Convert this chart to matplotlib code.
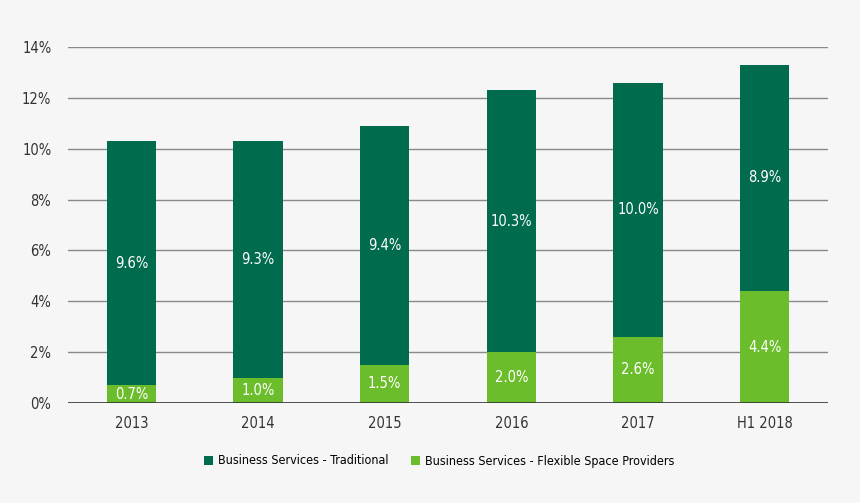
import numpy as np
import matplotlib.pyplot as plt
from matplotlib import font_manager

names = {f.name for f in font_manager.fontManager.ttflist}
narrow = [n for n in ["Liberation Sans Narrow", "DejaVu Sans"] if n in names]
plt.rcParams['font.family'] = narrow + ['DejaVu Sans']
plt.rcParams['font.stretch'] = 'condensed'

# --- data ---
years = ["2013", "2014", "2015", "2016", "2017", "H1 2018"]
flexible = [0.7, 1.0, 1.5, 2.0, 2.6, 4.4]
traditional = [9.6, 9.3, 9.4, 10.3, 10.0, 8.9]
yticks = [0, 2, 4, 6, 8, 10, 12, 14]

dark = "#006B4D"
light = "#6CBD2C"
bg = "#F6F6F6"

fig = plt.figure(figsize=(8.6, 5.03), dpi=100, facecolor=bg)
ax = fig.add_axes([68 / 860, 1 - 403 / 503, 760 / 860, 356 / 503], facecolor=bg)

x = np.arange(len(years))
w = 0.39
ax.bar(x, flexible, w, color=light, zorder=3,
       label="Business Services - Flexible Space Providers")
ax.bar(x, traditional, w, bottom=flexible, color=dark, zorder=3,
       label="Business Services - Traditional")

for i in range(len(years)):
    ax.text(x[i], flexible[i] / 2, f"{flexible[i]:.1f}%", ha="center", va="center",
            color="white", fontsize=10.5, zorder=4)
    ax.text(x[i], flexible[i] + traditional[i] / 2, f"{traditional[i]:.1f}%",
            ha="center", va="center", color="white", fontsize=10.5, zorder=4)

ax.set_xlim(-0.5, len(years) - 0.5)
ax.set_ylim(0, 14)
ax.set_yticks(yticks)
ax.set_yticklabels([f"{v}%" for v in yticks])
ax.set_xticks(x)
ax.set_xticklabels(years)
ax.tick_params(length=0, labelsize=10.5, colors="#333333")
ax.tick_params(axis="y", pad=12)
ax.tick_params(axis="x", pad=9)
for v in yticks[1:]:
    ax.axhline(v, color="#8A8A8A", linewidth=1.0, zorder=1)
ax.axhline(0, color="#333333", linewidth=1.2, zorder=5)
for s in ax.spines.values():
    s.set_visible(False)

handles, labels = ax.get_legend_handles_labels()
fig.legend(handles[::-1], labels[::-1], loc="center", bbox_to_anchor=(439 / 860, 1 - 461 / 503),
           ncol=2, frameon=False, fontsize=9, handlelength=0.7, handleheight=0.7,
           columnspacing=1.8, handletextpad=0.4)

plt.savefig("out.png", dpi=100, facecolor=bg)
